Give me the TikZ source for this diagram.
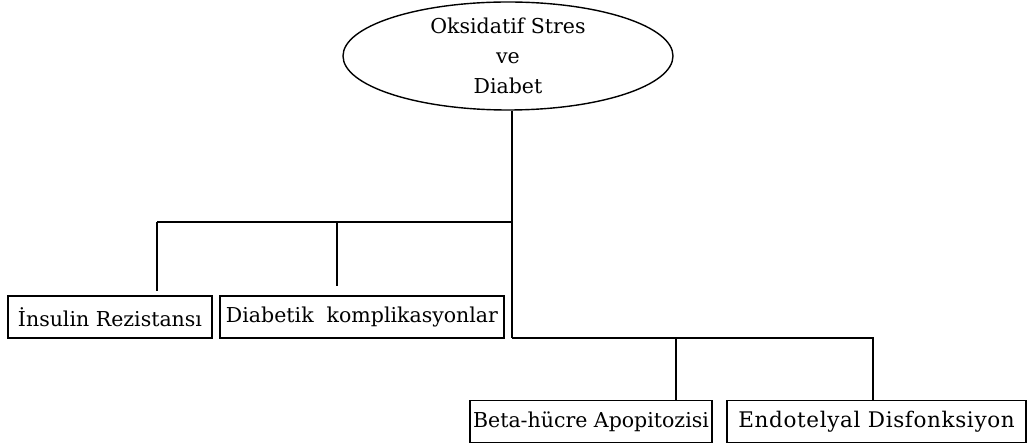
\documentclass[tikz,border=0pt]{standalone}
\usepackage{fontspec}
\setmainfont{DejaVu Serif}
\usetikzlibrary{shapes.geometric}
\begin{document}
\begin{tikzpicture}[x=1bp,y=-1bp,
  every node/.style={font=\fontsize{20.5bp}{30bp}\selectfont},
  topic/.style={draw,line width=1.4bp,ellipse,inner sep=0pt,
    minimum width=330bp,minimum height=108bp,align=center},
  leaf/.style={draw,line width=1.4bp,rectangle,inner sep=0pt,
    minimum height=42bp},
  link/.style={line width=1.4bp}]
\useasboundingbox (0,0) rectangle (1029,446);

% central topic
\node[topic] (top) at (508,56) {Oksidatif Stres\\ve\\Diabet};

% outcome boxes
\node[leaf,minimum width=204bp] (b1) at (110,317) {İnsulin Rezistansı};
\node[leaf,minimum width=284bp] (b2) at (362,317) {Diabetik\ \ komplikasyonlar};
\node[leaf,minimum width=242bp] (b3) at (591,421.5) {Beta-hücre Apopitozisi};
\node[leaf,minimum width=299bp,
  font=\fontsize{21.5bp}{30bp}\selectfont\addfontfeature{LetterSpace=3}]
  (b4) at (876.5,421.5) {Endotelyal Disfonksiyon};

% junction points of the tree
\coordinate (j1) at (512,222);
\coordinate (j2) at (512,338);
\coordinate (d1) at (157,222);
\coordinate (d2) at (337,222);
\coordinate (d3) at (676,338);
\coordinate (d4) at (873,338);

\draw[link] (top.south -| j1) -- (j2);
\draw[link] (j1) -- (d1);
\draw[link,shorten >=4bp] (d1) -- (d1 |- b1.north);
\draw[link,shorten >=9bp] (d2) -- (d2 |- b2.north);
\draw[link] (j2) -- (d4) -- (d4 |- b4.north);
\draw[link] (d3) -- (d3 |- b3.north);
\end{tikzpicture}
\end{document}
